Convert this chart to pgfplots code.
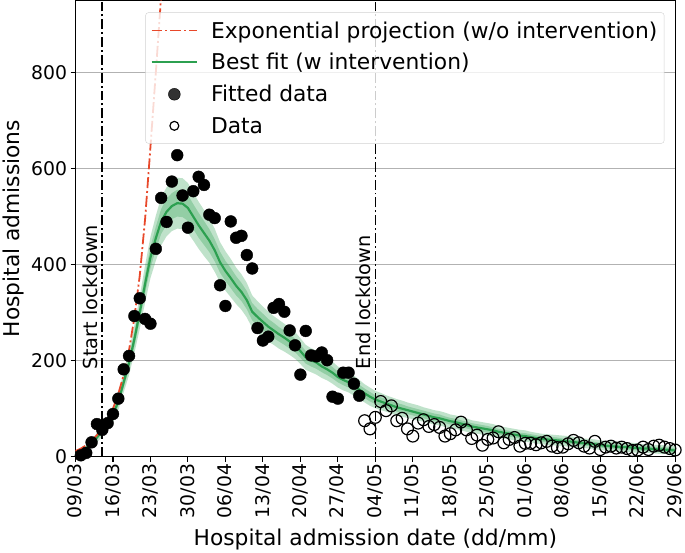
\documentclass[border=0pt]{standalone}
\usepackage{fontspec}
\setmainfont{DejaVu Sans}
\usepackage{pgfplots}
\usepackage{pgfplotstable}
\pgfplotsset{compat=1.18}
\usepgfplotslibrary{fillbetween}

\definecolor{fitgreen}{RGB}{44,160,80}
\definecolor{exred}{RGB}{232,72,42}

\pgfplotstableread{
d c il ih ol oh
0 6 4 8 2 10
1 11 8 14 6 16
2 18 15 21 12 24
3 27 23 31 20 34
4 40 35 45 30 50
5 55 49 61 42 68
6 70 63 77 56 84
7 88 80 96 72 104
8 115 106 124 97 133
9 155 144 166 134 176
10 195 182 208 170 220
11 245 230 260 216 274
12 300 283 317 266 334
13 360 340 380 321 399
14 415 393 437 372 458
15 455 431 479 408 502
16 490 464 516 440 540
17 510 483 537 459 561
18 522 495 549 470 574
19 528 500 556 475 581
20 527 499 555 474 580
21 518 491 545 466 570
22 500 474 526 450 550
23 482 456 508 433 531
24 466 441 491 418 514
25 450 426 474 404 496
26 430 407 453 385 475
27 405 383 427 363 447
28 387 366 408 346 428
29 372 351 393 332 412
30 356 336 376 318 394
31 343 324 362 306 380
32 326 307 345 290 362
33 302 284 320 268 336
34 291 274 308 258 324
35 281 264 298 249 313
36 271 255 287 240 302
37 263 247 279 233 293
38 255 240 270 225 285
39 248 233 263 219 277
40 240 225 255 212 268
41 232 218 246 204 260
42 220 206 234 193 247
43 207 194 220 181 233
44 201 188 214 176 226
45 196 183 209 171 221
46 188 176 200 164 212
47 182 170 194 159 205
48 175 163 187 152 198
49 166 155 177 144 188
50 160 149 171 138 182
51 155 144 166 134 176
52 148 137 159 127 169
53 140 130 150 120 160
54 132 122 142 113 151
55 125 115 135 106 144
56 119 110 128 101 137
57 115 106 124 97 133
58 111 102 120 94 128
59 107 98 116 90 124
60 103 94 112 86 120
61 100 91 109 83 117
62 97 89 105 81 113
63 94 86 102 78 110
64 91 83 99 75 107
65 88 80 96 73 103
66 85 77 93 70 100
67 82 74 90 67 97
68 80 72 88 65 95
69 77 70 84 62 92
70 74 67 81 60 88
71 72 65 79 58 86
72 69 62 76 55 83
73 66 59 73 52 80
74 63 56 70 50 76
75 61 54 68 48 74
76 59 52 66 46 72
77 57 50 64 44 70
78 55 49 61 42 68
79 52 46 58 40 64
80 50 44 56 38 62
81 48 42 54 36 60
82 46 40 52 34 58
83 44 38 50 32 56
84 43 37 49 31 55
85 41 35 47 30 52
86 39 33 45 28 50
87 37 31 43 26 48
88 36 30 42 25 47
89 35 29 41 24 46
90 34 28 40 23 45
91 33 28 38 22 44
92 32 27 37 21 43
93 31 26 36 20 42
94 29 24 34 19 39
95 28 23 33 18 38
96 27 22 32 17 37
97 26 21 31 16 36
98 24 19 29 14 34
99 23 18 28 13 33
100 22 17 27 12 32
101 21 16 26 11 31
102 20 15 25 10 30
103 20 15 25 10 30
104 19 14 24 9 29
105 18 13 23 8 28
106 17 12 22 8 26
107 17 12 22 8 26
108 16 11 21 7 25
109 15 10 20 6 24
110 15 10 20 6 24
111 14 9 19 5 23
112 13 8 18 4 22
}\fitdata

\pgfplotstableread{
d v
1 3
2 8
3 30
4 68
5 56
6 70
7 89
8 121
9 182
10 210
11 293
12 330
13 287
14 277
15 433
16 539
17 489
18 573
19 628
20 544
21 477
22 553
23 583
24 566
25 504
26 497
27 357
28 314
29 490
30 456
31 460
32 420
33 392
34 268
35 242
36 250
37 310
38 318
39 302
40 263
41 232
42 171
43 262
44 211
45 209
46 217
47 201
48 125
49 121
50 175
51 175
52 152
53 127
}\fitted

\pgfplotstableread{
d v
54 75
55 58
56 82
57 115
58 96
59 106
60 75
61 80
62 58
63 43
64 70
65 77
66 63
67 67
68 61
69 43
70 48
71 56
72 72
73 56
74 38
75 45
76 24
77 36
78 39
79 52
80 29
81 36
82 40
83 22
84 28
85 28
86 25
87 29
88 32
89 22
90 19
91 20
92 27
93 34
94 29
95 22
96 18
97 32
98 15
99 20
100 22
101 18
102 20
103 17
104 13
105 14
106 20
107 15
108 22
109 24
110 20
111 17
112 14
}\rawdata

\begin{document}
\begin{tikzpicture}
\begin{axis}[
  scale only axis, width=606pt, height=461pt,
  xmin=0, xmax=112, ymin=0, ymax=950,
  xtick={0,7,...,112},
  xticklabels={09/03,16/03,23/03,30/03,06/04,13/04,20/04,27/04,04/05,11/05,18/05,25/05,01/06,08/06,15/06,22/06,29/06},
  xticklabel style={rotate=90, anchor=east, inner sep=2pt, font=\fontsize{19}{22}\selectfont},
  ytick={0,200,400,600,800},
  yticklabel style={font=\fontsize{19}{22}\selectfont},
  /pgf/number format/assume math mode=true,
  tick align=outside, tick pos=left, major tick length=5pt,
  tick style={black, line width=1.1pt},
  axis line style={line width=1.1pt},
  ymajorgrids, grid style={color=gray!60, line width=1pt},
  xlabel={Hospital admission date (dd/mm)},
  ylabel={Hospital admissions},
  label style={font=\fontsize{22}{26}\selectfont},
  xlabel style={yshift=-5pt},
  legend cell align=left,
  legend image code/.code={\draw[mark repeat=2,mark phase=2,#1] plot coordinates {(0pt,0pt) (23pt,0pt) (46pt,0pt)};},
  legend style={at={(0.982,0.974)}, anchor=north east, draw=gray!35, fill=white, fill opacity=0.8, text opacity=1, rounded corners=3pt, font=\fontsize{22}{26}\selectfont, row sep=10pt, inner xsep=5pt, inner ysep=7pt,
    /tikz/every odd column/.append style={column sep=11pt}},
]
\addplot[name path=ou, draw=none, forget plot] table[x=d,y=oh]{\fitdata};
\addplot[name path=ol, draw=none, forget plot] table[x=d,y=ol]{\fitdata};
\addplot[fill=fitgreen, fill opacity=0.3, draw=none, forget plot] fill between[of=ou and ol];
\addplot[name path=iu, draw=none, forget plot] table[x=d,y=ih]{\fitdata};
\addplot[name path=il, draw=none, forget plot] table[x=d,y=il]{\fitdata};
\addplot[fill=fitgreen, fill opacity=0.3, draw=none, forget plot] fill between[of=iu and il];
\addplot[fitgreen, line width=2.2pt, forget plot] table[x=d,y=c]{\fitdata};
\addplot[exred, line width=1.8pt, dash pattern=on 11pt off 3pt on 2pt off 3pt, forget plot] coordinates {
(0,12) (1,17) (2,24) (3,33) (4,45) (5,59) (6,77) (7,100) (8,131) (9,170) (10,222) (11,290) (12,377) (13,495) (14,645) (15,800) (16,960) (17,1150)};
\addplot[black, line width=1.6pt, dash pattern=on 10pt off 3pt on 2pt off 3pt, forget plot] coordinates {(5,0) (5,950)};
\addplot[black, line width=1.6pt, dash pattern=on 10pt off 3pt on 2pt off 3pt, forget plot] coordinates {(56,0) (56,950)};
\addplot[only marks, mark=*, mark size=6pt, black, forget plot] table[x=d,y=v]{\fitted};
\addplot[only marks, mark=o, mark size=6pt, black, line width=1.2pt, forget plot] table[x=d,y=v]{\rawdata};
\node[rotate=90, anchor=south west, inner sep=0pt, font=\fontsize{19.5}{22}\selectfont] at ([xshift=-4pt]axis cs:5,182) {Start lockdown};
\node[rotate=90, anchor=south west, inner sep=0pt, font=\fontsize{19.5}{22}\selectfont] at ([xshift=-4pt]axis cs:56,182) {End lockdown};
\addlegendimage{exred, line width=1.8pt, dash pattern=on 11pt off 3pt on 2pt off 3pt}
\addlegendentry{Exponential projection (w/o intervention)}
\addlegendimage{fitgreen, line width=2.2pt}
\addlegendentry{Best fit (w intervention)}
\addlegendimage{only marks, mark=*, mark size=6pt, black}
\addlegendentry{Fitted data}
\addlegendimage{only marks, mark=o, mark size=4.5pt, black, line width=1.2pt}
\addlegendentry{Data}
\end{axis}
\end{tikzpicture}
\end{document}
